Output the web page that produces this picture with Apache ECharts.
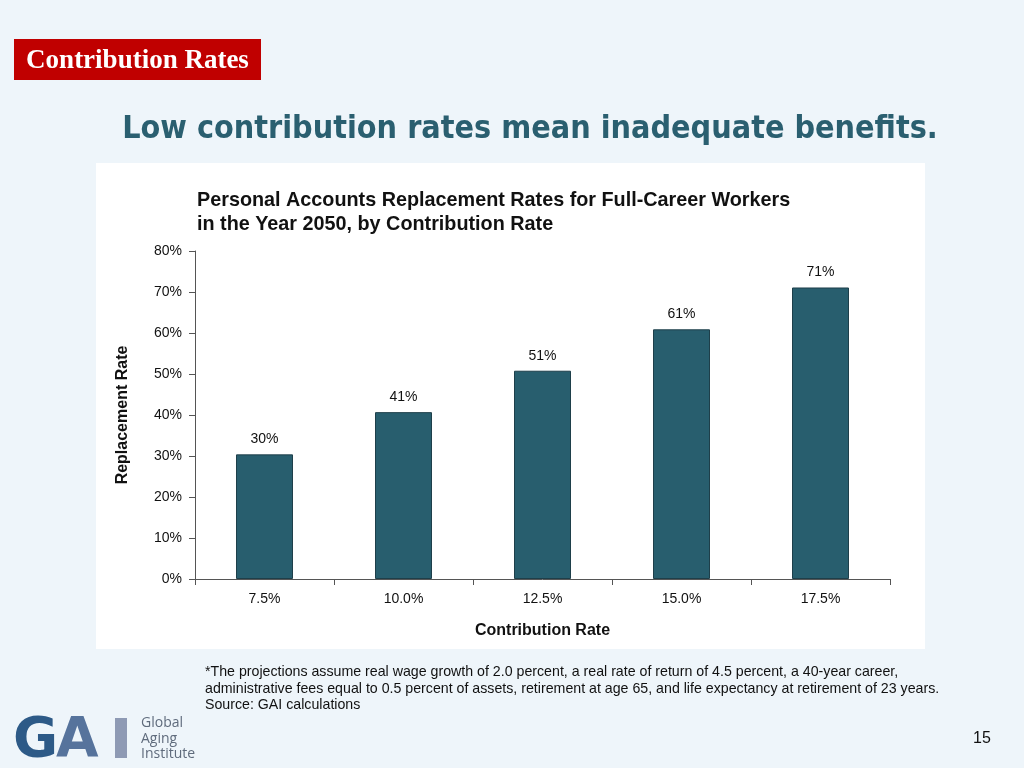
<!DOCTYPE html>
<html><head><meta charset="utf-8">
<script src="https://cdn.jsdelivr.net/npm/echarts@6/dist/echarts.min.js"></script>
<style>html,body{margin:0;padding:0;background:#eef5fa;}#c{width:1024px;height:768px;}</style>
</head><body><div id="c"></div>
<script>
const categories = ['7.5%', '10.0%', '12.5%', '15.0%', '17.5%'];
const replacementRates = [30.4, 40.7, 50.8, 60.9, 71.1];
const yTicks = [0, 10, 20, 30, 40, 50, 60, 70, 80];
const chartTitle = ['Personal Accounts Replacement Rates for Full-Career Workers', 'in the Year 2050, by Contribution Rate'];
const footnote = ['*The projections assume real wage growth of 2.0 percent, a real rate of return of 4.5 percent, a 40-year career,',
  'administrative fees equal to 0.5 percent of assets, retirement at age 65, and life expectancy at retirement of 23 years.',
  'Source: GAI calculations'];

const chart = echarts.init(document.getElementById('c'));
const axisColor = '#555';
chart.setOption({
  backgroundColor: '#eef5fa',
  animation: false,
  graphic: [
    {type:'rect', shape:{x:96,y:163,width:829,height:486}, style:{fill:'#ffffff'}, z:-10},
    {type:'rect', shape:{x:14,y:39,width:247,height:41}, style:{fill:'#c00000'}},
    {type:'text', x:137.5, y:61, style:{text:'Contribution Rates', fill:'#ffffff', font:'bold 27px "Liberation Serif", serif', align:'center', verticalAlign:'middle'}},
    {type:'text', x:530, y:130, style:{text:'Low contribution rates mean inadequate benefits.', fill:'#2a5f70', font:'bold 32px "DejaVu Sans Condensed", "DejaVu Sans", sans-serif', align:'center', verticalAlign:'middle'}},
    {type:'text', x:197, y:201, style:{text:chartTitle[0], fill:'#111', font:'bold 19.8px "Liberation Sans", Arial, sans-serif', verticalAlign:'middle'}},
    {type:'text', x:197, y:225, style:{text:chartTitle[1], fill:'#111', font:'bold 19.8px "Liberation Sans", Arial, sans-serif', verticalAlign:'middle'}},
    {type:'text', x:205, y:672, style:{text:footnote[0], fill:'#111', font:'14.2px "Liberation Sans", Arial, sans-serif', verticalAlign:'middle'}},
    {type:'text', x:205, y:689, style:{text:footnote[1], fill:'#111', font:'14.2px "Liberation Sans", Arial, sans-serif', verticalAlign:'middle'}},
    {type:'text', x:205, y:705, style:{text:footnote[2], fill:'#111', font:'14.2px "Liberation Sans", Arial, sans-serif', verticalAlign:'middle'}},
    {type:'text', x:13, y:742, style:{text:'G', fill:'#2d5a87', font:'bold 55px "DejaVu Sans", sans-serif', verticalAlign:'middle'}},
    {type:'text', x:56, y:742, style:{text:'A', fill:'#56739c', font:'bold 55px "DejaVu Sans", sans-serif', verticalAlign:'middle'}},
    {type:'rect', shape:{x:115,y:718,width:12,height:40}, style:{fill:'#8e9ab4'}},
    {type:'text', x:141, y:723, style:{text:'Global', fill:'#5f6b7c', font:'14px "Open Sans", sans-serif', verticalAlign:'middle'}},
    {type:'text', x:141, y:739, style:{text:'Aging', fill:'#5f6b7c', font:'14px "Open Sans", sans-serif', verticalAlign:'middle'}},
    {type:'text', x:141, y:754, style:{text:'Institute', fill:'#5f6b7c', font:'14px "Open Sans", sans-serif', verticalAlign:'middle'}},
    {type:'text', x:982, y:739, style:{text:'15', fill:'#111', font:'16px "Liberation Sans", Arial, sans-serif', align:'center', verticalAlign:'middle'}}
  ],
  grid: {left:195, right:134, top:251, bottom:189, containLabel:false},
  xAxis: {
    type:'category', data:categories,
    name:'Contribution Rate', nameLocation:'middle', nameGap:44,
    nameTextStyle:{fontFamily:'"Liberation Sans", Arial', fontWeight:'bold', fontSize:16, color:'#111'},
    axisLine:{lineStyle:{color:axisColor, width:1}},
    axisTick:{show:true, length:6, lineStyle:{color:axisColor}},
    axisLabel:{fontFamily:'"Liberation Sans", Arial', fontSize:14, color:'#111', margin:13}
  },
  yAxis: {
    type:'value', min:yTicks[0], max:yTicks[yTicks.length-1], interval:10,
    name:'Replacement Rate', nameLocation:'middle', nameGap:64, nameRotate:90,
    nameTextStyle:{fontFamily:'"Liberation Sans", Arial', fontWeight:'bold', fontSize:16, color:'#111'},
    axisLine:{show:true, lineStyle:{color:axisColor, width:1}},
    axisTick:{show:true, length:6, lineStyle:{color:axisColor}},
    splitLine:{show:false},
    axisLabel:{fontFamily:'"Liberation Sans", Arial', fontSize:14, color:'#111', margin:13, formatter:v=>v+'%'}
  },
  series: [{
    type:'bar', data:replacementRates, barWidth:57,
    itemStyle:{color:'#285e6e', borderColor:'#1e3f4a', borderWidth:1},
    label:{show:true, position:'top', distance:8, fontFamily:'"Liberation Sans", Arial', fontSize:14, color:'#111',
      formatter:p=>Math.round(p.value)+'%'}
  }]
});
</script></body></html>
